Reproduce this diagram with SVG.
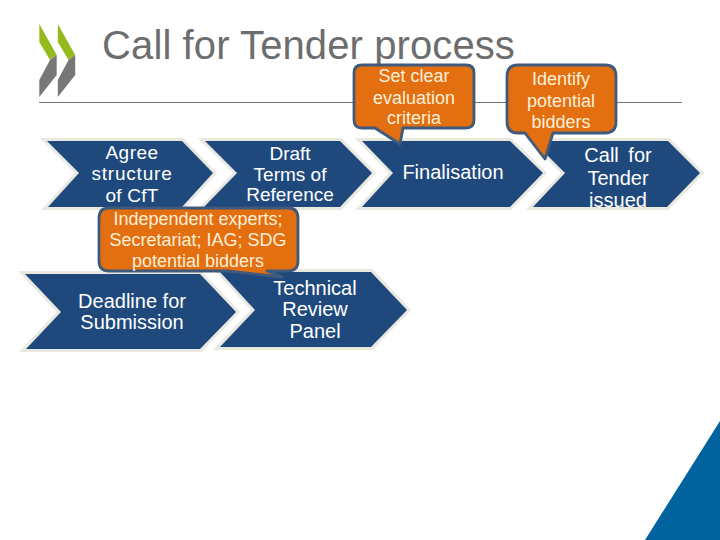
<svg xmlns="http://www.w3.org/2000/svg" width="720" height="540" viewBox="0 0 720 540">
<style>
text{font-family:"Liberation Sans",Arial,sans-serif;text-anchor:middle}
.chev{fill:#1f497d;stroke:#e9e9e1;stroke-width:6;stroke-linejoin:miter;paint-order:stroke}
.ct{fill:#fff;font-size:20px}
.ct2{fill:#fff;font-size:19px}
.call{fill:#e36f10;stroke:#3f5a7c;stroke-width:2.8;stroke-linejoin:round}
.lt{fill:#fdf0d8;font-size:18px}
</style>
<rect width="720" height="540" fill="#fff"/>
<g id="logo">
<polygon points="39.3,24 56.7,55 50,60 39.3,42" fill="#94bb1e"/>
<polygon points="39.3,97 39.3,80 50,60 56.7,55 56.7,75" fill="#77777a"/>
<polygon points="57.8,24 75.2,55 68.5,60 57.8,42" fill="#94bb1e"/>
<polygon points="57.8,97 57.8,80 68.5,60 75.2,55 75.2,75" fill="#77777a"/>
</g>
<rect x="39" y="102" width="643" height="1" fill="#6e7480"/>
<text id="title" x="308.500" y="59" font-size="40" letter-spacing="0.1" fill="#6d6d6d">Call for Tender process</text>
<polygon id="corner" points="720,421 645,540 720,540" fill="#00639e"/>
<g id="n1"><polygon class="chev" points="47,141 182,141 213,173 182,207 48,207 79,173"/>
<text class="ct2"><tspan x="132" y="159" letter-spacing="0.5">Agree</tspan><tspan x="132" y="180" letter-spacing="0.8">structure</tspan><tspan x="132" y="202" letter-spacing="0.2">of CfT</tspan></text></g>
<g id="n2"><polygon class="chev" points="205,141 340,141 372,173 340,207 204,207 237,173"/>
<text class="ct2"><tspan x="290" y="160">Draft</tspan><tspan x="290" y="181">Terms of</tspan><tspan x="290" y="201">Reference</tspan></text></g>
<g id="n3"><polygon class="chev" points="362,141 510,141 543,173 510,207 362,207 393,173"/>
<text class="ct" x="453" y="179">Finalisation</text></g>
<g id="n4"><polygon class="chev" points="533,141 668,141 700,173 667,207 533,207 565,173"/>
<text class="ct"><tspan x="618" y="162" word-spacing="4">Call for</tspan><tspan x="618" y="185">Tender</tspan><tspan x="618" y="207">issued</tspan></text></g>
<g id="n5"><polygon class="chev" points="25,274 200,274 236,312 200,349 26,349 61,312"/>
<text class="ct"><tspan x="132" y="308">Deadline for</tspan><tspan x="132" y="329">Submission</tspan></text></g>
<g id="n6"><polygon class="chev" points="220,272 371,272 407,310 371,347 220,347 255,310"/>
<text class="ct"><tspan x="315" y="295">Technical</tspan><tspan x="315" y="316">Review</tspan><tspan x="315" y="338">Panel</tspan></text></g>
<g id="c1"><path class="call" d="M362,65H466Q474,65 474,73V120Q474,128 466,128H403L400,144L375,128H362Q354,128 354,120V73Q354,65 362,65Z"/>
<text class="lt"><tspan x="414" y="82">Set clear</tspan><tspan x="414" y="104">evaluation</tspan><tspan x="414" y="124">criteria</tspan></text></g>
<g id="c2"><path class="call" d="M518,65H605Q616,65 616,76V122Q616,133 605,133H553L545,159L525,133H518Q507,133 507,122V76Q507,65 518,65Z"/>
<text class="lt"><tspan x="561" y="85">Identify</tspan><tspan x="561" y="107">potential</tspan><tspan x="561" y="128">bidders</tspan></text></g>
<g id="c3"><path class="call" d="M109,208H288Q298,208 298,218V261Q298,271 288,271H267L282,277L227,271H109Q99,271 99,261V218Q99,208 109,208Z"/>
<text class="lt"><tspan x="198" y="225">Independent experts;</tspan><tspan x="198" y="246">Secretariat; IAG; SDG</tspan><tspan x="198" y="267">potential bidders</tspan></text></g>
</svg>
